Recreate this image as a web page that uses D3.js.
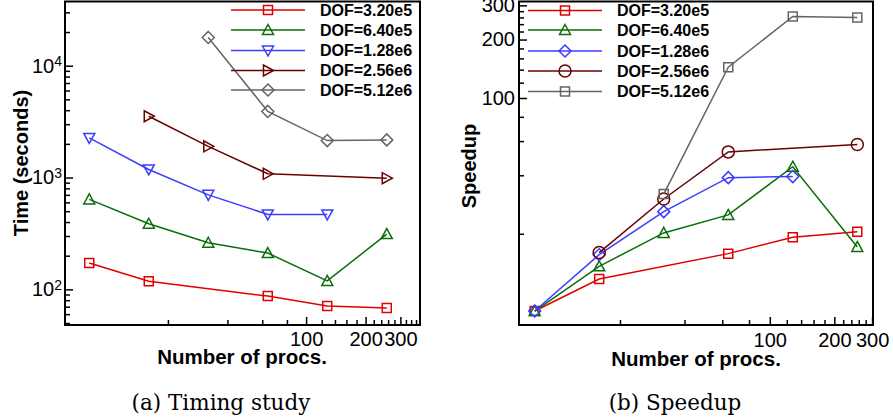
<!DOCTYPE html>
<html>
<head>
<meta charset="utf-8">
<script src="https://cdn.jsdelivr.net/npm/d3@7/dist/d3.min.js"></script>
<style>
body { margin: 0; background: #fff; }
svg { display: block; }
</style>
</head>
<body>
<svg id="chart" width="893" height="418"></svg>
<script>
// series
var seriesNames = ['DOF=3.20e5', 'DOF=6.40e5', 'DOF=1.28e6', 'DOF=2.56e6', 'DOF=5.12e6'];
var seriesColors = ['#e00000', '#0a6e0a', '#3c3cff', '#6a0000', '#646464'];

// number of procs per series (same for both panels)
var procs = [
	[8, 16, 64, 128, 256],
	[8, 16, 32, 64, 128, 256],
	[8, 16, 32, 64, 128],
	[16, 32, 64, 256],
	[32, 64, 128, 256]
];

// (a) wall time in seconds
var timeValues = [
	[172, 118, 87, 71, 68],
	[637, 386, 261, 211, 119, 312],
	[2260, 1180, 700, 468, 468],
	[3530, 1900, 1080, 986],
	[17900, 3900, 2140, 2170]
];

// (b) speedup
var speedupValues = [
	[8, 11.7, 15.8, 19.2, 20.5],
	[8, 13.6, 20.2, 25, 44.3, 17.1],
	[8, 15.6, 26, 38.9, 39.4],
	[16, 30.2, 52.8, 57.6],
	[32, 144, 263, 260]
];

var timeMarkers = ['square', 'triUp', 'triDown', 'triRight', 'diamond'];
var speedupMarkers = ['square', 'triUp', 'diamond', 'circle', 'square'];

var procTickLabels = [100, 200, 300];
var timeTickLabels = [100, 1000, 10000];
var speedupTickLabels = [100, 200, 300];

var sans = '"Liberation Sans", Arial, Helvetica, sans-serif';
var serif = '"DejaVu Serif", "Liberation Serif", serif';

var svg = d3.select('#chart');

function markerPath(type) {
	switch(type) {
		case 'square':
			return 'M-4.5,-4.5h9v9h-9Z';
		case 'triUp':
			return 'M0,-5.5L5.5,4.5L-5.5,4.5Z';
		case 'triDown':
			return 'M0,5.5L5.5,-4.5L-5.5,-4.5Z';
		case 'triRight':
			return 'M5.5,0L-4.5,-5.5L-4.5,5.5Z';
		case 'diamond':
			return 'M0,-6L6,0L0,6L-6,0Z';
		case 'circle':
			return 'M-6,0A6,6 0 1,0 6,0A6,6 0 1,0 -6,0Z';
	}
}

// minor ticks every 20 on the procs / speedup axes
function stepMinor(domain, majors) {
	return d3.range(20, 100, 20).concat(d3.range(120, 400, 20)).filter(function(d) {
		return d > domain[0] && d < domain[1] && majors.indexOf(d) < 0;
	});
}

// 2..9 minor ticks for the time axis
function logMinor(domain) {
	var out = [];
	[10, 100, 1000, 10000].forEach(function(dec) {
		for (var k = 2; k <= 9; k++) {
			if (k * dec > domain[0] && k * dec < domain[1]) out.push(k * dec);
		}
	});
	return out;
}

function drawPanel(p) {
	var g = svg.append('g');
	var x = d3.scaleLog().domain(p.xDomain).range([p.left, p.right]);
	var y = d3.scaleLog().domain(p.yDomain).range([p.bottom, p.top]);

	// minor ticks
	g.append('g')
	.attr('transform', 'translate(0,' + p.bottom + ')')
	.call(d3.axisBottom(x).tickValues(stepMinor(p.xDomain, procTickLabels)).tickSize(-5).tickFormat(''));
	g.append('g')
	.attr('transform', 'translate(' + p.left + ',0)')
	.call(d3.axisLeft(y).tickValues(p.yMinor).tickSize(-5).tickFormat(''));

	// major ticks + labels
	g.append('g')
	.attr('transform', 'translate(0,' + p.bottom + ')')
	.call(d3.axisBottom(x).tickValues(procTickLabels).tickSize(-8).tickPadding(p.xPad).tickFormat(d3.format('d')));
	var yAxis = g.append('g')
	.attr('transform', 'translate(' + p.left + ',0)')
	.call(d3.axisLeft(y).tickValues(p.yTicks).tickSize(-8).tickPadding(p.yPad).tickFormat(p.yFormat));

	g.selectAll('.domain').remove();
	g.selectAll('.tick line').attr('stroke', '#000').attr('stroke-width', 1.5);
	g.selectAll('.tick text').attr('font-family', sans).attr('font-size', 20).attr('fill', '#000');

	if (p.superscript) {
		yAxis.selectAll('.tick text').each(function(d) {
			var t = d3.select(this);
			t.append('tspan').text('10');
			t.append('tspan').attr('dy', '-0.45em').attr('font-size', 14).text(Math.round(Math.log10(d)));
		});
	}

	// series
	var line = d3.line()
	.x(function(d) { return x(d[0]); })
	.y(function(d) { return y(d[1]); });

	seriesNames.forEach(function(name, i) {
		var pts = procs[i].map(function(v, j) { return [v, p.values[i][j]]; });
		g.append('path')
		.datum(pts)
		.attr('d', line)
		.attr('fill', 'none')
		.attr('stroke', seriesColors[i])
		.attr('stroke-width', 1.5);

		g.selectAll('.mk' + i)
		.data(pts)
		.enter().append('path')
		.attr('class', 'mk' + i)
		.attr('transform', function(d) { return 'translate(' + x(d[0]) + ',' + y(d[1]) + ')'; })
		.attr('d', markerPath(p.markers[i]))
		.attr('fill', 'none')
		.attr('stroke', seriesColors[i])
		.attr('stroke-width', 1.5);
	});

	// legend
	var leg = g.append('g');
	seriesNames.forEach(function(name, i) {
		var ly = p.legendY[i];
		leg.append('line')
		.attr('x1', p.legendX).attr('x2', p.legendX + 74)
		.attr('y1', ly).attr('y2', ly)
		.attr('stroke', seriesColors[i])
		.attr('stroke-width', 1.5);
		leg.append('path')
		.attr('transform', 'translate(' + (p.legendX + 37) + ',' + ly + ')')
		.attr('d', markerPath(p.markers[i]))
		.attr('fill', 'none')
		.attr('stroke', seriesColors[i])
		.attr('stroke-width', 1.5);
		leg.append('text')
		.attr('x', p.legendX + 89)
		.attr('y', ly + 5.5)
		.attr('font-family', sans)
		.attr('font-weight', 'bold')
		.attr('font-size', 16)
		.text(name);
	});

	// frame
	g.append('rect')
	.attr('x', p.left).attr('y', p.top)
	.attr('width', p.right - p.left).attr('height', p.bottom - p.top)
	.attr('fill', 'none')
	.attr('stroke', '#000')
	.attr('stroke-width', 2);

	// axis titles
	g.append('text')
	.attr('x', p.xTitleX).attr('y', p.xTitleY)
	.attr('text-anchor', 'middle')
	.attr('font-family', sans).attr('font-weight', 'bold').attr('font-size', 20.5)
	.text('Number of procs.');

	g.append('text')
	.attr('transform', 'translate(' + p.yTitleX + ',' + p.yTitleY + ') rotate(-90)')
	.attr('text-anchor', 'middle')
	.attr('font-family', sans).attr('font-weight', 'bold').attr('font-size', 20)
	.text(p.yTitle);

	// caption
	g.append('text')
	.attr('x', p.captionX).attr('y', 410)
	.attr('text-anchor', 'middle')
	.attr('font-family', serif).attr('font-size', 21.5)
	.text(p.caption);
}

drawPanel({
	left: 65, right: 420, top: 1.5, bottom: 325,
	xDomain: [6.03, 377],
	yDomain: [48, 37500],
	yTicks: timeTickLabels,
	yMinor: logMinor([48, 37500]),
	yFormat: function() { return ''; },
	superscript: true,
	xPad: 6.5, yPad: 3,
	values: timeValues,
	markers: timeMarkers,
	legendX: 231,
	legendY: [10, 30, 50.5, 70.5, 90],
	xTitleX: 242, xTitleY: 363.5,
	yTitleX: 28, yTitleY: 163,
	yTitle: 'Time (seconds)',
	captionX: 221,
	caption: '(a) Timing study'
});

drawPanel({
	left: 519, right: 873, top: 1.5, bottom: 325,
	xDomain: [6.76, 303],
	yDomain: [6.78, 314],
	yTicks: speedupTickLabels,
	yMinor: stepMinor([6.78, 314], speedupTickLabels),
	yFormat: d3.format('d'),
	superscript: false,
	xPad: 7.5, yPad: 4,
	values: speedupValues,
	markers: speedupMarkers,
	legendX: 528,
	legendY: [10.5, 30, 51, 71, 91.5],
	xTitleX: 696, xTitleY: 365.5,
	yTitleX: 476, yTitleY: 166,
	yTitle: 'Speedup',
	captionX: 675,
	caption: '(b) Speedup'
});
</script>
</body>
</html>
